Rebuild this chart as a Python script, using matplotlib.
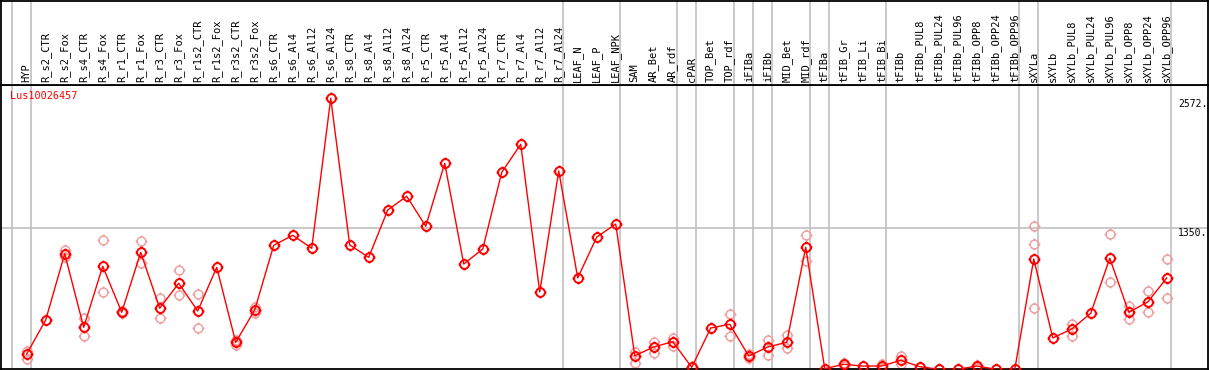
import numpy as np
import matplotlib.pyplot as plt
from matplotlib.path import Path

labels = ["HYP", "R_s2_CTR", "R_s2_Fox", "R_s4_CTR", "R_s4_Fox", "R_r1_CTR", "R_r1_Fox",
          "R_r3_CTR", "R_r3_Fox", "R_r1s2_CTR", "R_r1s2_Fox", "R_r3s2_CTR", "R_r3s2_Fox",
          "R_s6_CTR", "R_s6_Al4", "R_s6_Al12", "R_s6_Al24", "R_s8_CTR", "R_s8_Al4",
          "R_s8_Al12", "R_s8_Al24", "R_r5_CTR", "R_r5_Al4", "R_r5_Al12", "R_r5_Al24",
          "R_r7_CTR", "R_r7_Al4", "R_r7_Al12", "R_r7_Al24", "LEAF_N", "LEAF_P", "LEAF_NPK",
          "SAM", "AR_Bet", "AR_rdf", "cPAR", "TOP_Bet", "TOP_rdf", "iFIBa", "iFIBb",
          "MID_Bet", "MID_rdf", "tFIBa", "tFIB_Gr", "tFIB_Li", "tFIB_Bi", "tFIBb",
          "tFIBb_PUL8", "tFIBb_PUL24", "tFIBb_PUL96", "tFIBb_OPP8", "tFIBb_OPP24",
          "tFIBb_OPP96", "sXYLa", "sXYLb", "sXYLb_PUL8", "sXYLb_PUL24", "sXYLb_PUL96",
          "sXYLb_OPP8", "sXYLb_OPP24", "sXYLb_OPP96"]

means = [168, 488, 1111, 419, 993, 560, 1124, 598, 833, 572, 983, 278, 582,
         1190, 1284, 1162, 2572, 1193, 1077, 1522, 1651, 1369, 1961, 1014, 1155,
         1876, 2140, 751, 1889, 883, 1268, 1390,
         152, 234, 284, 43, 413, 447, 149, 234, 278, 1171,
         30, 71, 55, 55, 109, 49, 24, 24, 55, 24, 24,
         1061, 319, 403, 551, 1068, 560, 657, 883]

# replicate values (missing = single sample)
reps = {
    "HYP": [196, 118], "R_s2_Fox": [1146, 1083], "R_s4_CTR": [509, 335],
    "R_s4_Fox": [1237, 748], "R_r1_CTR": [572, 551], "R_r1_Fox": [1228, 1021],
    "R_r3_CTR": [692, 504], "R_r3_Fox": [955, 720], "R_r1s2_CTR": [729, 410],
    "R_r3s2_CTR": [253, 300], "R_r3s2_Fox": [551, 610],
    "SAM": [184, 81], "AR_Bet": [281, 175], "AR_rdf": [319, 243], "cPAR": [43, 43],
    "TOP_rdf": [544, 340], "iFIBa": [165, 128], "iFIBb": [300, 156],
    "MID_Bet": [344, 222], "MID_rdf": [1284, 1042], "tFIB_Gr": [86, 55],
    "tFIB_Bi": [77, 37], "tFIBb": [149, 77], "tFIBb_OPP8": [65, 37],
    "sXYLa": [1369, 1199, 598], "sXYLb_PUL8": [450, 340], "sXYLb_PUL96": [1293, 842],
    "sXYLb_OPP8": [619, 494], "sXYLb_OPP24": [758, 560], "sXYLb_OPP96": [1058, 692],
}

sep_after = [-1, 0, 28, 31, 34, 35, 37, 38, 39, 41, 42, 45, 52, 53, 60]
gene = "Lus10026457"
ymax = 2572
ymid = 1350

W, H = 1209, 370
fig = plt.figure(figsize=(W / 100, H / 100), dpi=100)
ax = fig.add_axes([1 / W, 1 / H, 1207 / W, 284 / H])
axh = fig.add_axes([1 / W, 285 / H, 1207 / W, 84 / H])

x = np.arange(len(labels))
xl = (-1.353, 62.17)
for a in (ax, axh):
    a.set_xlim(*xl)
    a.set_xticks([])
    a.set_yticks([])
    for s in a.spines.values():
        s.set_color('black')
        s.set_linewidth(1.3)
    for i in sep_after:
        a.axvline(i + 0.21, color='#c0c0c0', lw=1.2, zorder=0)
ax.set_ylim(27, 2697)
axh.set_ylim(0, 1)

ax.axhline(ymid, color='#c0c0c0', lw=1.2, zorder=0)

# circle marker with four small ticks outside
t = np.linspace(0, 2 * np.pi, 33)
cv = np.column_stack([np.cos(t), np.sin(t)])
codes = [Path.MOVETO] + [Path.LINETO] * 32
verts = list(map(tuple, cv))
for a, b in [((0, 1), (0, 1.35)), ((0, -1), (0, -1.35)),
             ((1, 0), (1.35, 0)), ((-1, 0), (-1.35, 0))]:
    verts += [a, b]
    codes += [Path.MOVETO, Path.LINETO]
mk = Path(verts, codes)

for i, lab in enumerate(labels):
    r = reps.get(lab, [])
    if r:
        ax.plot([i] * len(r), r, ls='none', marker=mk, ms=8.5, mfc='none',
                mec='#f0a0a0', mew=1.1, zorder=2)

ax.plot(x, means, color='red', lw=1, marker=mk, ms=8.5, mfc='none',
        mec='red', mew=1.4, zorder=3)

for i, lab in enumerate(labels):
    axh.text(i, 0.035, lab, rotation=90, ha='center', va='bottom',
             fontsize=7.5, family='DejaVu Sans Mono')

ax.text(-0.9, 2572 + 20, gene, color='red', fontsize=7.3, family='DejaVu Sans Mono',
        va='center', ha='left')

xr = 60.59
ax.annotate(f"{ymax}.", (xr, ymax), xytext=(0, -6), textcoords='offset pixels',
            ha='left', va='center', fontsize=7, family='DejaVu Sans Mono')
ax.annotate(f"{ymid}.", (xr, ymid), xytext=(0, -4.5), textcoords='offset pixels',
            ha='left', va='center', fontsize=7, family='DejaVu Sans Mono')
ax.annotate("0", (xr, 0), xytext=(0, 10), textcoords='offset pixels',
            ha='left', va='center', fontsize=7, family='DejaVu Sans Mono')

fig.savefig("out.png", dpi=100)
